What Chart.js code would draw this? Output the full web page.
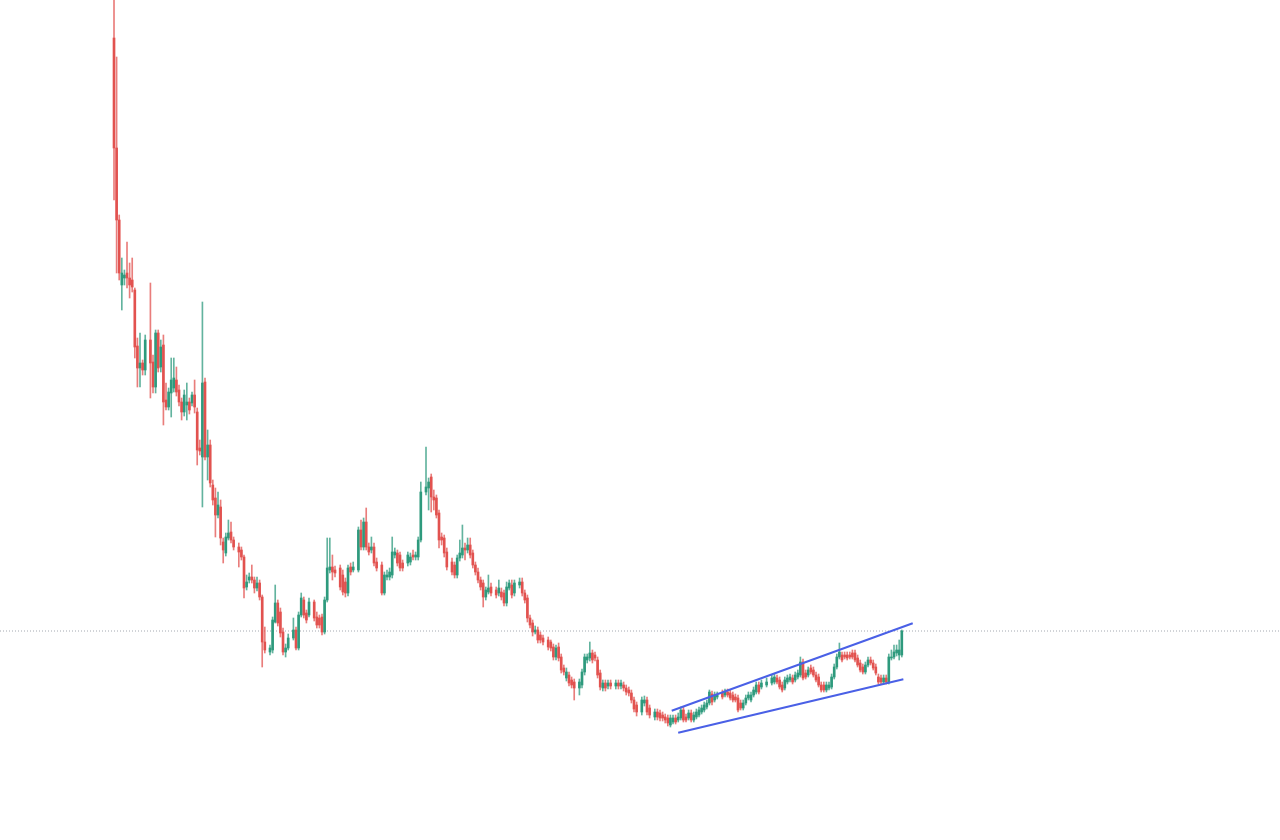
<!DOCTYPE html>
<html>
<head>
<meta charset="utf-8">
<title>Candles</title>
<script src="https://cdn.jsdelivr.net/npm/chart.js@4.4.1/dist/chart.umd.min.js"></script>
<style>
  body { margin: 0; background: #ffffff; }
  #wrap { width: 1280px; height: 840px; }
</style>
</head>
<body>
<div id="wrap"><canvas id="priceChart" width="1280" height="840"></canvas></div>
<script>
// daily candles (day index + OHLC)
const days = [
  0, 1, 2, 3, 4, 5, 6, 7, 8, 9,
  10, 11, 12, 14, 15, 16, 17, 18, 19, 20,
  21, 22, 23, 24, 25, 26, 27, 28, 29, 30,
  31, 32, 33, 34, 35, 36, 37, 38, 39, 40,
  41, 42, 43, 44, 45, 46, 48, 49, 50, 51,
  52, 53, 54, 55, 56, 57, 58, 60, 61, 62,
  63, 64, 65, 66, 67, 69, 70, 71, 72, 73,
  74, 75, 77, 78, 79, 80, 81, 82, 83, 84,
  85, 87, 88, 89, 90, 91, 92, 94, 95, 96,
  97, 98, 99, 100, 101, 103, 104, 105, 106, 107,
  108, 109, 110, 111, 113, 114, 115, 116, 117, 118,
  120, 121, 122, 123, 124, 125, 126, 127, 128, 130,
  131, 132, 133, 134, 135, 136, 137, 138, 139, 140,
  141, 142, 143, 144, 145, 147, 148, 149, 150, 151,
  152, 153, 154, 156, 157, 158, 159, 160, 161, 162,
  163, 164, 165, 167, 168, 169, 170, 171, 172, 173,
  174, 175, 176, 177, 179, 180, 181, 182, 183, 184,
  185, 186, 187, 188, 189, 190, 191, 193, 194, 195,
  196, 197, 198, 199, 200, 201, 203, 204, 205, 206,
  208, 209, 210, 211, 212, 213, 214, 215, 216, 217,
  218, 219, 220, 221, 222, 223, 224, 225, 226, 227,
  228, 229, 230, 231, 232, 234, 235, 236, 237, 238,
  239, 240, 241, 242, 243, 244, 245, 246, 247, 248,
  249, 251, 253, 254, 255, 256, 257, 258, 259, 260,
  261, 262, 263, 264, 265, 266, 267, 268, 269, 270,
  271, 272, 273, 274, 275, 276, 277, 278, 279, 280,
  281, 282, 283, 284, 285, 286, 287, 288, 289, 290,
  291, 292, 293, 294, 295, 296, 297, 298, 299, 300,
  301, 302, 303
];

const opens = [
  802, 692, 620, 555, 562, 567, 562, 560, 550, 494,
  472, 477, 470, 500, 478, 453, 507, 473, 495, 440,
  433, 447, 452, 460, 450, 438, 428, 435, 438, 437,
  445, 428, 392, 383, 458, 383, 395, 355, 342, 325,
  333, 298, 287, 302, 308, 300, 293, 290, 283, 253,
  260, 263, 260, 252, 257, 243, 198, 188, 190, 218,
  237, 228, 208, 188, 192, 202, 210, 192, 225, 240,
  227, 225, 238, 223, 222, 223, 208, 240, 270, 273,
  270, 272, 265, 258, 247, 273, 270, 270, 310, 293,
  318, 293, 290, 293, 278, 275, 247, 263, 263, 265,
  285, 287, 285, 277, 277, 278, 285, 283, 283, 300,
  348, 352, 363, 343, 342, 327, 303, 302, 288, 278,
  275, 265, 282, 285, 292, 290, 295, 287, 275, 268,
  260, 257, 243, 248, 253, 250, 247, 248, 247, 237,
  252, 255, 247, 255, 258, 247, 242, 222, 217, 208,
  210, 205, 202, 200, 198, 193, 183, 193, 183, 172,
  162, 165, 160, 158, 152, 155, 168, 180, 182, 187,
  185, 180, 167, 152, 157, 154, 157, 154, 157, 154,
  155, 152, 150, 147, 140, 135, 128, 137, 140, 132,
  123, 128, 127, 125, 123, 122, 115, 118, 122, 120,
  122, 130, 123, 122, 127, 120, 123, 125, 128, 130,
  133, 137, 146, 140, 143, 147, 145, 148, 147, 145,
  143, 142, 137, 132, 137, 142, 140, 145, 148, 155,
  153, 155, 157, 158, 162, 160, 155, 152, 158, 160,
  162, 160, 163, 165, 178, 167, 165, 172, 170, 165,
  163, 155, 155, 150, 152, 153, 163, 173, 183, 185,
  185, 185, 185, 187, 187, 182, 177, 173, 168, 175,
  180, 177, 173, 163, 162, 158, 162, 158, 182, 183,
  187, 185, 185
];

const highs = [
  860, 783, 625, 582, 570, 598, 577, 582, 552, 502,
  507, 480, 505, 557, 485, 510, 510, 500, 505, 457,
  452, 482, 482, 473, 455, 442, 450, 457, 442, 448,
  460, 432, 400, 538, 462, 410, 400, 360, 352, 348,
  340, 302, 307, 320, 318, 303, 297, 293, 285, 265,
  267, 275, 263, 263, 260, 245, 213, 195, 223, 255,
  240, 232, 212, 196, 206, 222, 213, 228, 247, 243,
  230, 242, 240, 228, 225, 226, 243, 302, 302, 285,
  274, 275, 270, 262, 275, 277, 278, 313, 320, 322,
  332, 297, 303, 297, 282, 278, 268, 270, 272, 303,
  292, 290, 288, 280, 288, 287, 290, 288, 303, 358,
  393, 362, 366, 350, 345, 330, 307, 305, 292, 282,
  278, 285, 300, 315, 297, 302, 302, 290, 278, 272,
  263, 260, 253, 265, 257, 253, 260, 252, 250, 258,
  260, 260, 260, 262, 262, 250, 245, 225, 220, 214,
  213, 208, 205, 203, 200, 196, 195, 197, 186, 175,
  172, 168, 163, 161, 161, 171, 186, 186, 198, 190,
  188, 183, 170, 160, 160, 160, 160, 160, 160, 160,
  158, 155, 153, 150, 143, 138, 143, 144, 143, 135,
  131, 131, 130, 128, 126, 125, 125, 125, 125, 127,
  133, 133, 126, 130, 130, 128, 131, 133, 135, 138,
  140, 150, 149, 148, 148, 150, 151, 151, 150, 148,
  146, 145, 140, 140, 145, 148, 148, 153, 158, 158,
  160, 162, 165, 166, 165, 163, 158, 163, 165, 166,
  165, 168, 170, 183, 181, 170, 173, 175, 173, 168,
  166, 158, 158, 158, 158, 166, 176, 186, 197, 188,
  188, 188, 188, 190, 190, 185, 180, 176, 178, 183,
  183, 180, 176, 166, 165, 165, 165, 186, 190, 195,
  195, 200, 210
];

const lows = [
  640, 567, 560, 530, 555, 552, 542, 548, 482, 453,
  453, 465, 465, 442, 447, 447, 468, 468, 415, 430,
  430, 423, 448, 444, 434, 420, 424, 420, 426, 434,
  427, 375, 385, 333, 380, 360, 353, 335, 303, 322,
  295, 277, 284, 300, 297, 290, 273, 280, 242, 250,
  257, 257, 247, 249, 240, 173, 187, 185, 187, 217,
  214, 203, 185, 183, 190, 200, 190, 190, 223, 222,
  217, 223, 219, 212, 212, 205, 206, 238, 267, 260,
  263, 250, 245, 243, 244, 265, 268, 268, 290, 290,
  290, 285, 287, 274, 269, 245, 245, 260, 260, 262,
  282, 274, 269, 269, 274, 275, 280, 280, 280, 298,
  345, 330, 328, 330, 322, 292, 295, 283, 270, 265,
  262, 262, 279, 282, 280, 287, 282, 272, 265, 257,
  250, 233, 240, 246, 244, 242, 244, 240, 234, 234,
  250, 242, 244, 252, 244, 237, 218, 212, 204, 206,
  197, 197, 195, 190, 189, 180, 180, 179, 167, 165,
  159, 154, 152, 140, 145, 152, 165, 177, 179, 177,
  179, 162, 150, 149, 149, 151, 151, 151, 151, 151,
  149, 145, 144, 137, 128, 124, 125, 134, 125, 122,
  120, 120, 119, 119, 117, 114, 113, 116, 116, 118,
  120, 118, 118, 120, 118, 118, 121, 123, 126, 128,
  131, 135, 135, 138, 141, 141, 143, 143, 140, 138,
  138, 128, 130, 130, 135, 140, 138, 143, 146, 146,
  151, 153, 155, 156, 156, 151, 148, 150, 156, 158,
  156, 158, 161, 163, 160, 161, 163, 166, 163, 158,
  153, 148, 148, 148, 150, 151, 161, 171, 181, 178,
  181, 180, 181, 181, 178, 173, 168, 166, 166, 173,
  175, 170, 165, 156, 156, 156, 156, 156, 180, 181,
  184, 180, 183
];

const closes = [
  692, 620, 567, 567, 565, 562, 555, 553, 493, 472,
  477, 470, 500, 477, 453, 507, 472, 493, 438, 433,
  448, 460, 462, 448, 438, 428, 445, 438, 430, 445,
  433, 390, 389, 457, 383, 395, 357, 340, 325, 335,
  302, 290, 303, 307, 300, 293, 288, 283, 252, 258,
  263, 260, 252, 257, 243, 198, 190, 192, 220, 237,
  217, 207, 188, 192, 202, 210, 192, 225, 242, 225,
  220, 238, 222, 215, 215, 208, 240, 272, 273, 268,
  267, 253, 248, 247, 272, 268, 273, 310, 293, 318,
  293, 288, 293, 277, 272, 247, 265, 265, 268, 288,
  288, 277, 272, 272, 285, 283, 283, 285, 300, 348,
  353, 358, 343, 340, 325, 300, 300, 287, 273, 268,
  265, 282, 287, 292, 290, 295, 285, 275, 268, 260,
  253, 243, 250, 252, 247, 245, 252, 243, 237, 253,
  257, 245, 257, 258, 247, 240, 222, 215, 208, 210,
  200, 200, 198, 193, 192, 183, 192, 182, 170, 168,
  168, 157, 155, 152, 158, 168, 183, 183, 187, 180,
  182, 165, 153, 157, 152, 157, 154, 157, 154, 157,
  152, 148, 147, 140, 131, 128, 140, 140, 128, 125,
  128, 123, 122, 122, 120, 117, 122, 122, 118, 123,
  130, 120, 120, 127, 120, 125, 128, 130, 132, 135,
  137, 148, 138, 145, 145, 143, 148, 145, 142, 140,
  140, 130, 132, 137, 142, 145, 145, 150, 155, 148,
  157, 158, 162, 163, 158, 153, 150, 160, 162, 163,
  158, 165, 167, 178, 162, 163, 170, 168, 165, 160,
  155, 150, 150, 155, 155, 163, 173, 183, 188, 180,
  183, 182, 183, 183, 180, 175, 170, 168, 175, 180,
  177, 172, 167, 158, 158, 162, 158, 183, 183, 188,
  190, 190, 209
];

// two hand drawn trend lines (rising channel)
const upperLineDays = [214.5, 307.2];
const upperLineValues = [129.3, 216.7];
const lowerLineDays = [217.0, 303.6];
const lowerLineValues = [107.3, 160.7];

const UP = "#2e9a7d";
const DOWN = "#e2524f";
const UP_WICK = "rgba(46, 154, 125, 0.75)";
const DOWN_WICK = "rgba(226, 82, 79, 0.75)";

function buildCandles() {
  const isUp = closes.map((c, i) => c >= opens[i]);
  const bodyColors = isUp.map(up => (up ? UP : DOWN));
  const wickColors = isUp.map(up => (up ? UP_WICK : DOWN_WICK));
  const wicks = days.map((d, i) => ({ x: d, y: [lows[i], highs[i]] }));
  const bodies = days.map((d, i) => ({ x: d, y: [opens[i], closes[i]] }));
  return { bodyColors, wickColors, wicks, bodies };
}

function renderChart() {
  const ctx = document.getElementById("priceChart").getContext("2d");
  const { bodyColors, wickColors, wicks, bodies } = buildCandles();
  const xMin = -43.85;
  const xMax = 448.46;
  const lastClose = closes[closes.length - 1];

  new Chart(ctx, {
    data: {
      datasets: [
        {
          type: "line",
          data: [{ x: xMin, y: lastClose }, { x: xMax, y: lastClose }],
          borderColor: "#a3a8b0",
          borderWidth: 1,
          borderDash: [1, 2],
          pointRadius: 0,
          order: 4
        },
        {
          type: "bar",
          data: wicks,
          backgroundColor: wickColors,
          barThickness: 1,
          grouped: false,
          order: 3
        },
        {
          type: "bar",
          data: bodies,
          backgroundColor: bodyColors,
          barThickness: 2,
          minBarLength: 1,
          grouped: false,
          order: 2
        },
        {
          type: "line",
          data: upperLineDays.map((d, i) => ({ x: d, y: upperLineValues[i] })),
          borderColor: "#4a60e6",
          borderWidth: 2,
          pointRadius: 0,
          order: 1
        },
        {
          type: "line",
          data: lowerLineDays.map((d, i) => ({ x: d, y: lowerLineValues[i] })),
          borderColor: "#4a60e6",
          borderWidth: 2,
          pointRadius: 0,
          order: 1
        }
      ]
    },
    options: {
      responsive: false,
      devicePixelRatio: 1,
      animation: false,
      layout: { padding: 0 },
      plugins: { legend: { display: false }, tooltip: { enabled: false } },
      scales: {
        x: { type: "linear", min: xMin, max: xMax, offset: false, display: false },
        y: { type: "linear", min: 0, max: 840, display: false }
      }
    }
  });
}

renderChart();
</script>
</body>
</html>
